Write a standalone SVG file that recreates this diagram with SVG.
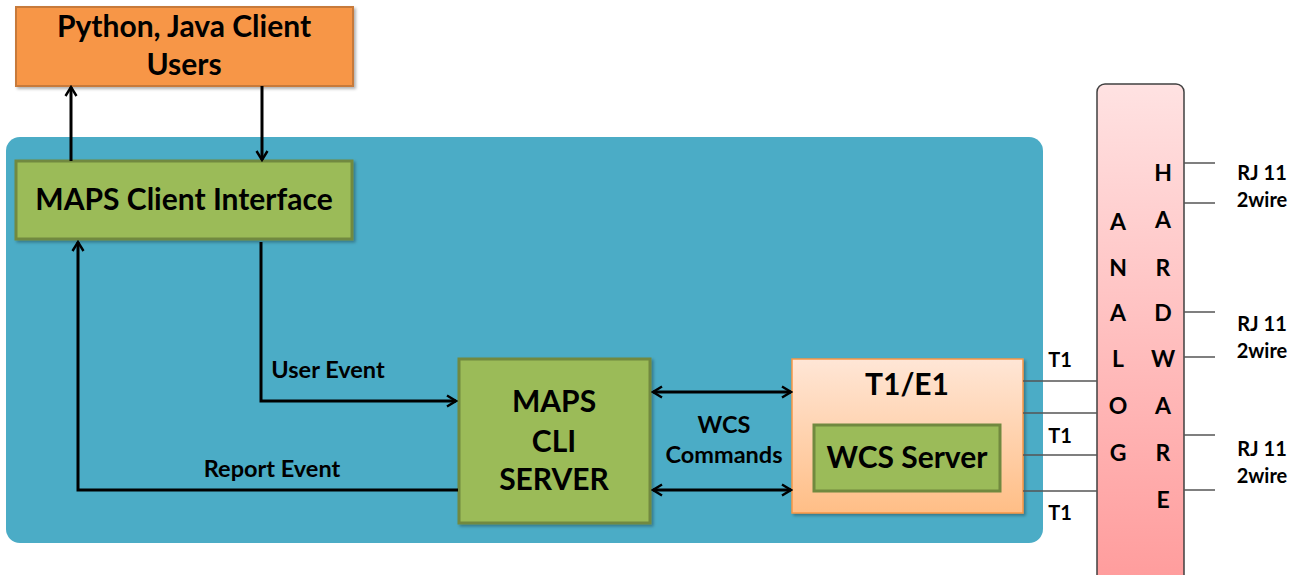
<svg xmlns="http://www.w3.org/2000/svg" width="1300" height="575" viewBox="0 0 1300 575">
<defs>
<linearGradient id="gT1" x1="0" y1="0" x2="0" y2="1">
<stop offset="0" stop-color="#FFE6D6"/><stop offset="1" stop-color="#FFBE86"/>
</linearGradient>
<linearGradient id="gHW" x1="0" y1="0" x2="0" y2="1">
<stop offset="0" stop-color="#FFE2E2"/><stop offset="1" stop-color="#FF9C9C"/>
</linearGradient>
<filter id="sh" x="-10%" y="-10%" width="130%" height="130%">
<feDropShadow dx="2" dy="2" stdDeviation="1.5" flood-color="#000" flood-opacity="0.3"/>
</filter>
<marker id="ah" viewBox="0 0 14 14" refX="12" refY="7" markerWidth="14" markerHeight="14" markerUnits="userSpaceOnUse" orient="auto-start-reverse">
<path d="M3,1.5 L12,7 L3,12.5" fill="none" stroke="#000" stroke-width="2.4"/>
</marker>
</defs>
<style>
text{font-family:Lato,"Open Sans","Liberation Sans",sans-serif;font-weight:bold;fill:#000;text-anchor:middle}
.big{font-size:30px}
.lbl{font-size:23.5px}
.sm{font-size:20px}
.hw{font-size:23px}
.green{fill:#9BBB59;stroke:#71893F;stroke-width:3}
.con{fill:none;stroke:#000;stroke-width:3}
.wire{stroke:#555;stroke-width:1.5}
</style>
<rect x="6" y="137" width="1037" height="406" rx="14" fill="#4BACC6"/>
<g id="users">
<rect x="16" y="7" width="337" height="79" fill="#F79646" stroke="#C77A3A" stroke-width="2" filter="url(#sh)"/>
<text class="big" x="184" y="37">Python, Java Client</text>
<text class="big" x="184" y="75">Users</text>
</g>
<g id="client-interface">
<rect class="green" x="16" y="161" width="336" height="78" filter="url(#sh)"/>
<text class="big" x="184" y="210">MAPS Client Interface</text>
</g>
<g id="cli-server">
<rect class="green" x="459" y="359" width="191" height="164" filter="url(#sh)"/>
<text class="big" x="554" y="412">MAPS</text>
<text class="big" x="554" y="452">CLI</text>
<text class="big" x="554" y="490">SERVER</text>
</g>
<g id="t1e1">
<rect x="792" y="359" width="231" height="154" fill="url(#gT1)" stroke="#F79646" stroke-width="1.5" filter="url(#sh)"/>
<text class="big" x="907" y="395">T1/E1</text>
<g id="wcs-server">
<rect class="green" x="814" y="425" width="186" height="66"/>
<text class="big" x="907" y="468">WCS Server</text>
</g>
</g>
<g id="hardware">
<rect x="1097" y="84" width="87" height="500" rx="8" fill="url(#gHW)" stroke="#404040" stroke-width="1.5"/>
<text class="hw" x="1118" y="230">A</text>
<text class="hw" x="1118" y="276">N</text>
<text class="hw" x="1118" y="321">A</text>
<text class="hw" x="1118" y="367">L</text>
<text class="hw" x="1118" y="414">O</text>
<text class="hw" x="1118" y="461">G</text>
<text class="hw" x="1163" y="181">H</text>
<text class="hw" x="1163" y="228">A</text>
<text class="hw" x="1163" y="276">R</text>
<text class="hw" x="1163" y="321">D</text>
<text class="hw" x="1163" y="367">W</text>
<text class="hw" x="1163" y="414">A</text>
<text class="hw" x="1163" y="461">R</text>
<text class="hw" x="1163" y="508">E</text>
</g>
<g id="connectors">
<line class="con" x1="71" y1="161" x2="71" y2="87" marker-end="url(#ah)"/>
<line class="con" x1="262" y1="86" x2="262" y2="160" marker-end="url(#ah)"/>
<polyline class="con" points="261,242 261,401 456,401" marker-end="url(#ah)"/>
<polyline class="con" points="458,490 78,490 78,242" marker-end="url(#ah)"/>
<line class="con" x1="653" y1="392" x2="791" y2="392" marker-start="url(#ah)" marker-end="url(#ah)"/>
<line class="con" x1="653" y1="490" x2="791" y2="490" marker-start="url(#ah)" marker-end="url(#ah)"/>
<line class="wire" x1="1023" y1="381" x2="1097" y2="381"/>
<line class="wire" x1="1023" y1="413" x2="1097" y2="413"/>
<line class="wire" x1="1023" y1="455" x2="1097" y2="455"/>
<line class="wire" x1="1023" y1="491" x2="1097" y2="491"/>
<line class="wire" x1="1184" y1="163" x2="1215" y2="163"/>
<line class="wire" x1="1184" y1="203" x2="1215" y2="203"/>
<line class="wire" x1="1184" y1="312" x2="1215" y2="312"/>
<line class="wire" x1="1184" y1="357" x2="1215" y2="357"/>
<line class="wire" x1="1184" y1="435" x2="1215" y2="435"/>
<line class="wire" x1="1184" y1="490" x2="1215" y2="490"/>
</g>
<g id="labels">
<text class="lbl" x="328" y="378">User Event</text>
<text class="lbl" x="272" y="477">Report Event</text>
<text class="lbl" x="724" y="433">WCS</text>
<text class="lbl" x="724" y="463">Commands</text>
<text class="sm" x="1060" y="367">T1</text>
<text class="sm" x="1060" y="443">T1</text>
<text class="sm" x="1060" y="520">T1</text>
<text class="sm" x="1262" y="180">RJ 11</text>
<text class="sm" x="1262" y="207">2wire</text>
<text class="sm" x="1262" y="331">RJ 11</text>
<text class="sm" x="1262" y="358">2wire</text>
<text class="sm" x="1262" y="456">RJ 11</text>
<text class="sm" x="1262" y="483">2wire</text>
</g>
</svg>
